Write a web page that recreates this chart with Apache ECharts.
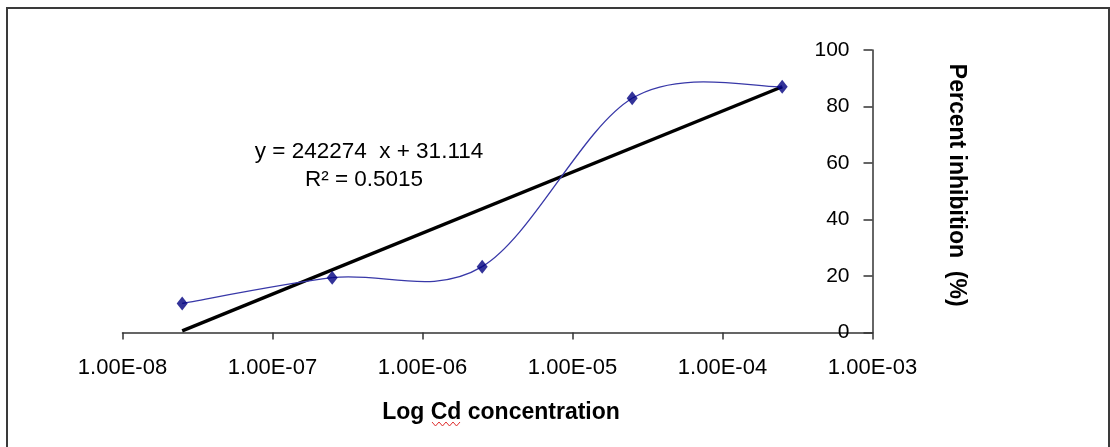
<!DOCTYPE html>
<html>
<head>
<meta charset="utf-8">
<script src="https://cdn.jsdelivr.net/npm/echarts@6/dist/echarts.min.js"></script>
<style>
  html, body { margin: 0; padding: 0; background: #fff; }
  #chart { width: 1110px; height: 447px; }
</style>
</head>
<body>
<div id="chart"></div>
<script>
// Cd concentration (M) and measured percent inhibition
const concentrations = [2.5e-8, 2.5e-7, 2.5e-6, 2.5e-5, 2.5e-4];
const inhibition = [10.3, 19.4, 23.3, 82.9, 87.0];

// Fitted trend line, drawn between its two end points
const trendX = [2.5e-8, 2.5e-4];
const trendY = [0.6, 87.0];

// Tick labels for the concentration axis (decades 1e-8 .. 1e-3)
const xTickLabels = ['1.00E-08', '1.00E-07', '1.00E-06', '1.00E-05', '1.00E-04', '1.00E-03'];
const yTicks = [0, 20, 40, 60, 80, 100];

const equationText = 'y = 242274  x + 31.114';
const r2Text = 'R\u00B2 = 0.5015';

const FONT = '"Liberation Sans", Arial, sans-serif';

const chart = echarts.init(document.getElementById('chart'), null, { renderer: 'canvas' });

const dataPoints = concentrations.map((c, i) => [c, inhibition[i]]);
const trendPoints = trendX.map((c, i) => [c, trendY[i]]);

// Smoothed connecting curve: Catmull-Rom segments through the measured
// points, converted to cubic Bezier curves in pixel space.
function renderSmoothCurve(params, api) {
  if (params.dataIndex !== 0) return null;
  const pts = dataPoints.map((d) => api.coord(d));
  const n = pts.length;
  const children = [];
  for (let i = 0; i < n - 1; i++) {
    const p0 = pts[Math.max(i - 1, 0)];
    const p1 = pts[i];
    const p2 = pts[i + 1];
    const p3 = pts[Math.min(i + 2, n - 1)];
    children.push({
      type: 'bezierCurve',
      shape: {
        x1: p1[0], y1: p1[1],
        x2: p2[0], y2: p2[1],
        cpx1: p1[0] + (p2[0] - p0[0]) / 6,
        cpy1: p1[1] + (p2[1] - p0[1]) / 6,
        cpx2: p2[0] - (p3[0] - p1[0]) / 6,
        cpy2: p2[1] - (p3[1] - p1[1]) / 6
      },
      style: { stroke: '#3838a8', lineWidth: 1.3, fill: null }
    });
  }
  return { type: 'group', children: children };
}

// small wavy underline under "Cd" in the axis title
const squiggle = [];
for (let i = 0; i <= 8; i++) {
  squiggle.push([432 + i * 3.5, i % 2 === 0 ? 422 : 426]);
}

chart.setOption({
  backgroundColor: '#ffffff',
  animation: false,
  grid: { left: 122.5, right: 237.5, top: 50, bottom: 114.5, containLabel: false },
  xAxis: {
    type: 'log',
    logBase: 10,
    min: 1e-8,
    max: 1e-3,
    name: 'Log Cd concentration',
    nameLocation: 'middle',
    nameGap: 69,
    nameTextStyle: { fontFamily: FONT, fontSize: 23, fontWeight: 'bold', color: '#000', padding: [0, 0, 0, 7] },
    axisLine: { show: true, onZero: false, lineStyle: { color: '#333', width: 1.5 } },
    axisTick: { show: true, inside: false, length: 7, lineStyle: { color: '#333', width: 1.5 } },
    minorTick: { show: false },
    splitLine: { show: false },
    axisLabel: {
      fontFamily: FONT, fontSize: 22, color: '#000', margin: 24,
      formatter: (v) => {
        const idx = Math.round(Math.log10(v)) + 8;
        return xTickLabels[idx] !== undefined ? xTickLabels[idx] : '';
      }
    }
  },
  yAxis: {
    type: 'value',
    position: 'right',
    min: yTicks[0],
    max: yTicks[yTicks.length - 1],
    interval: 20,
    name: 'Percent inhibition  (%)',
    nameLocation: 'middle',
    nameRotate: -90,
    nameGap: 72,
    nameTextStyle: { fontFamily: FONT, fontSize: 23, fontWeight: 'bold', color: '#000', padding: [0, 12, 0, 0] },
    axisLine: { show: true, lineStyle: { color: '#333', width: 1.5 } },
    axisTick: { show: true, inside: true, length: 9, lineStyle: { color: '#333', width: 1.5 } },
    splitLine: { show: false },
    axisLabel: { inside: true, fontFamily: FONT, fontSize: 21, color: '#000', margin: 23 }
  },
  series: [
    {
      name: 'trend',
      type: 'line',
      data: trendPoints,
      symbol: 'none',
      lineStyle: { color: '#000', width: 3.4 },
      z: 2
    },
    {
      name: 'inhibition curve',
      type: 'custom',
      coordinateSystem: 'cartesian2d',
      data: dataPoints,
      renderItem: renderSmoothCurve,
      silent: true,
      z: 3
    },
    {
      name: 'inhibition',
      type: 'scatter',
      data: dataPoints,
      symbol: 'diamond',
      symbolSize: [11, 14],
      itemStyle: { color: '#000080' },
      z: 4
    }
  ],
  graphic: [
    {
      type: 'rect',
      shape: { x: 7, y: 8, width: 1102, height: 470 },
      style: { fill: null, stroke: '#3a3a3a', lineWidth: 2 },
      silent: true
    },
    {
      type: 'text',
      x: 369, y: 152,
      style: { text: equationText, font: '22.5px ' + FONT, fill: '#000', align: 'center', verticalAlign: 'middle' }
    },
    {
      type: 'text',
      x: 364, y: 180,
      style: { text: r2Text, font: '22.5px ' + FONT, fill: '#000', align: 'center', verticalAlign: 'middle' }
    },
    {
      type: 'polyline',
      shape: { points: squiggle },
      style: { stroke: '#e03030', lineWidth: 1, fill: null },
      silent: true
    }
  ]
});
</script>
</body>
</html>
